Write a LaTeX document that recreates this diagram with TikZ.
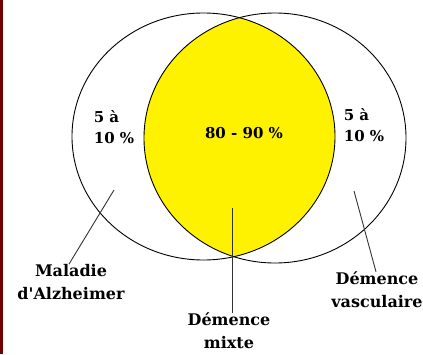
\documentclass[tikz,border=0pt]{standalone}
\usepackage{fontspec}
\setmainfont{DejaVu Serif}
\begin{document}
\begin{tikzpicture}[x=1pt,y=-1pt,
  lbl/.style={font=\bfseries\fontsize{16}{23}\selectfont, align=center, inner sep=0pt},
  pct/.style={font=\bfseries\fontsize{15}{21}\selectfont, align=left, inner sep=0pt},
  ell/.style={draw=black, line width=0.9pt},
  lead/.style={draw=black!80, line width=0.9pt}]
\useasboundingbox (0,0) rectangle (423,354);
\fill[white] (0,0) rectangle (423,354);
\fill[black!50!red!90!black] (0,0) rectangle (3,354);
% yellow intersection
\begin{scope}
  \clip (203.5,136.5) ellipse [x radius=131.5, y radius=123.5];
  \fill[yellow] (275,138) ellipse [x radius=131, y radius=125];
\end{scope}
\draw[ell] (203.5,136.5) ellipse [x radius=131.5, y radius=123.5];
\draw[ell] (275,138) ellipse [x radius=131, y radius=125];
% percentages
\node[pct] (pl) at (114,127) {5 à\\10 \%};
\node[pct] (pm) at (244,133) {80 - 90 \%};
\node[pct] (pr) at (364,125) {5 à\\10 \%};
% labels
\node[lbl] (alz) at (71,282) {Maladie\\d\textquotesingle Alzheimer};
\node[lbl] (mix) at (229,331) {Démence\\mixte};
\node[lbl] (vas) at (377,290) {Démence\\vasculaire};
% leader lines
\coordinate (al) at (114,190);
\coordinate (ml) at (232,208);
\coordinate (vl) at (354,191);
\draw[lead] (al) -- (alz.north -| 69,251);
\draw[lead] (ml) -- (mix.north -| 232,313);
\draw[lead] (vl) -- (vas.north -| 376,265);
\end{tikzpicture}
\end{document}
